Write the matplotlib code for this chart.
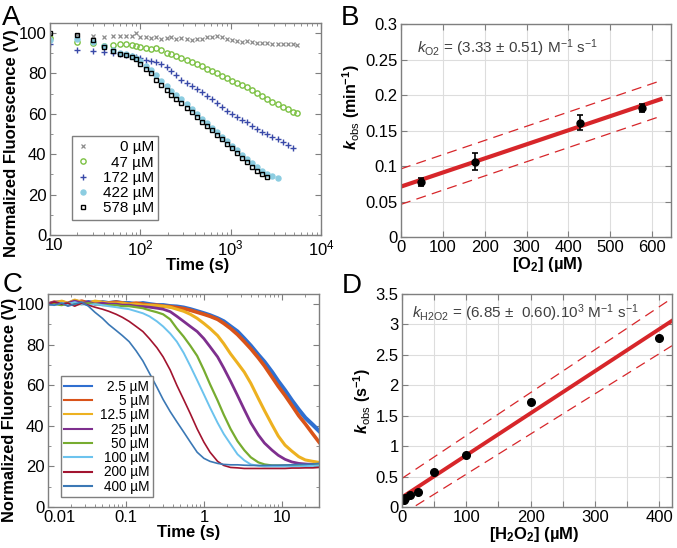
import matplotlib
matplotlib.use('Agg')
import matplotlib.pyplot as plt
from matplotlib.ticker import MultipleLocator, FixedLocator, FixedFormatter, NullFormatter, LogLocator

plt.rcParams['font.family'] = ['Liberation Sans', 'DejaVu Sans']
plt.rcParams['mathtext.fontset'] = 'custom'
plt.rcParams['mathtext.rm'] = 'Liberation Sans'
plt.rcParams['mathtext.it'] = 'Liberation Sans:italic'
plt.rcParams['mathtext.bf'] = 'Liberation Sans:bold'
plt.rcParams['mathtext.bfit'] = 'Liberation Sans:italic:bold'

# ---- panel A: fluorescence vs time at several O2 concentrations
tA = [10, 20, 30, 40, 50, 60, 70, 80, 90, 100,
      115, 130, 150, 170, 195, 220, 250, 285, 325, 370,
      420, 480, 545, 620, 705, 800, 910, 1035, 1180, 1340,
      1520, 1730, 1970, 2240, 2550, 2900, 3300, 3750, 4270, 4850, 5400]
tA_ticks = [10, 100, 1000, 10000]
tA_ticklabels = ['10', '$10^2$', '$10^3$', '$10^4$']
o2_labels = ['0 µM', '47 µM', '172 µM', '422 µM', '578 µM']
fA_0 = [99, 99, 98.5, 98.2, 98.6, 98.6, 98.6, 98.6, 99.8, 97.8,
        97.8, 97.5, 97.8, 97.2, 97.5, 97.8, 97.3, 97.4, 97.0, 96.8,
        97.0, 97.3, 97.8, 98.2, 98.6, 98.2, 97.2, 96.8, 96.3, 95.8,
        96.0, 95.5, 95.0, 95.2, 95.0, 94.6, 94.4, 94.6, 94.8, 94.5, 94.3]
fA_47 = [97.5, 95.4, 95, 93.8, 94, 94.5, 94.6, 94.3, 93.8, 93.2,
         92.6, 92.2, 92.5, 91.5, 90, 89.5, 88.5, 87.5, 86.5, 85.5,
         84.5, 83.5, 82.3, 81.3, 80, 78.8, 77.6, 76.5, 75.3, 74.3,
         73.4, 72, 70.5, 69, 67.5, 66, 64.8, 63.5, 62.2, 61, 60.2]
fA_172 = [94.7, 91.6, 91, 90.5, 90, 89.6, 89.3, 88.8, 88.3, 87.8,
          86.8, 86, 85.5, 84.5, 83, 81, 79, 77, 75.5, 74,
          72.5, 71, 69, 67.5, 65.5, 63.5, 61.5, 60, 58.5, 57,
          56, 54, 52.5, 51, 50, 48.5, 47.3, 46, 44.6, 43.2]
fA_422 = [96.5, 97, 95.5, 93.5, 91.5, 90, 89.5, 88.5, 87.5, 86,
          83.5, 81.5, 79, 76.5, 74, 71.5, 69.5, 67.5, 65, 62.5,
          60, 57.5, 55.5, 53, 51, 48.5, 46.5, 44, 42, 39.5,
          37.5, 35.5, 33.5, 31.5, 30, 29, 28.4]
fA_578 = [100, 99, 96.5, 93, 91, 89.5, 89, 88, 87, 84.5,
          82, 80, 77, 74.5, 72, 69.5, 67.5, 65.5, 63, 60.8,
          58.5, 56.2, 54.2, 52, 49.7, 47.5, 45.2, 42.9, 40.6, 38.3,
          36, 33.8, 31.8, 30, 28.5]

# ---- panel B: kobs vs [O2]
o2_conc = [48, 178, 428, 575]
kobs_o2 = [0.078, 0.106, 0.161, 0.182]
kobs_o2_err = [0.0055, 0.012, 0.0105, 0.006]
fitB_x = [0, 620]
fitB_y = [0.071, 0.194]
fitB_hi = [0.096, 0.220]
fitB_lo = [0.046, 0.170]

# ---- panel C: fluorescence vs time at several H2O2 concentrations
tC = [0.01, 0.012, 0.015, 0.018, 0.022, 0.027, 0.033, 0.04, 0.05, 0.06,
      0.075, 0.09, 0.11, 0.135, 0.165, 0.2, 0.25, 0.3, 0.37, 0.45,
      0.55, 0.67, 0.82, 1.0, 1.2, 1.5, 1.8, 2.2, 2.7, 3.3,
      4.0, 5.0, 6.0, 7.5, 9.0, 11, 13.5, 16.5, 20, 25, 30]
tC_ticks = [0.01, 0.1, 1, 10]
tC_ticklabels = ['0.01', '0.1', '1', '10']
h2o2_labels = ['2.5 µM', '5 µM', '12.5 µM', '25 µM', '50 µM', '100 µM', '200 µM', '400 µM']
fC_2_5 = [100, 100.5, 101, 100, 101.5, 100.5, 101, 100.5, 101, 100.5,
          101, 100.5, 100.5, 100, 100.5, 100, 99.5, 99.5, 99, 98.8,
          98.3, 97.5, 96.5, 95.5, 94.5, 93, 91.5, 89, 86.5, 83,
          79.5, 75, 71.5, 66.5, 62, 57.5, 52.5, 48, 44, 40.5, 37.5]
fC_5 = [100, 101, 100.5, 100, 100.5, 101.5, 100.5, 101, 100, 100.5,
        101, 100.5, 100, 100.5, 100, 99.5, 99.5, 99, 98.8, 98.3,
        97.8, 97, 96, 95, 94, 92.5, 90.5, 88, 85, 81.5,
        78, 73.5, 69.5, 64, 59.5, 55, 50, 45, 41, 36, 32]
fC_12_5 = [100, 100.5, 101.5, 100.5, 102, 101, 100.5, 101.5, 101, 100.5,
           100.5, 100.5, 100, 100, 99.5, 99.5, 99.2, 99, 98.5, 97.5,
           96.5, 95, 93, 90.5, 88, 84.5, 80.5, 75.5, 71, 66.5,
           61, 53.5, 47.5, 40.5, 35, 30.5, 27.5, 24.8, 23.2, 22.5, 22]
fC_25 = [100, 101, 100, 100.5, 101.5, 100.5, 101, 100, 100.5, 100,
         100, 99.5, 99.5, 99, 98.8, 98.5, 98, 97.5, 96.3, 94,
         91.5, 89, 86.5, 83, 79, 74, 68.5, 62, 55, 48,
         41.5, 35.5, 31.5, 28, 25.5, 23.5, 22.2, 21.5, 21.2, 21, 21]
fC_50 = [100, 100, 99.5, 100.5, 100, 100, 100.5, 100, 99.5, 99.5,
         99.5, 99, 99, 98.5, 98, 97, 96, 95, 92.5, 88,
         84, 79.5, 74.5, 67.5, 60.5, 52.5, 45.5, 38.5, 32.5, 28,
         24.5, 22, 21, 20.5, 20.5, 20.5, 20.5, 20.5, 20.5, 20.6, 20.8]
fC_100 = [100, 99.5, 100.5, 100, 101, 100, 99.5, 100, 99.5, 99,
          98.5, 98, 97.5, 96.5, 95.5, 94, 91.5, 89, 85.5, 81.5,
          76, 69.5, 62.5, 55.5, 49, 41.5, 36, 31, 26, 23,
          21, 20.3, 20, 20, 20, 20, 20, 20, 20.2, 20.3, 20.5]
fC_200 = [100, 101, 100, 100.5, 99, 100.5, 99.5, 98.5, 97.5, 96.5,
          95, 93.5, 91.5, 89, 86.5, 83, 78.5, 74, 67.5, 60,
          53, 46, 38.5, 32, 27, 22.5, 20.5, 19.5, 19.3, 19,
          19, 19, 19, 19, 19, 19, 19.2, 19.2, 19.3, 19.3, 19.5]
fC_400 = [100, 99.5, 100.5, 99, 100, 101, 99, 96, 93, 90,
          87, 84.5, 81.5, 77, 72, 66, 59, 53, 47, 42,
          37, 32, 27, 24, 22.5, 21.5, 21, 20.8, 20.8, 20.6,
          20.5, 20.5, 20.5, 20.6, 20.6, 20.7, 20.8, 21, 21, 21.2, 21.5]

# ---- panel D: kobs vs [H2O2]
h2o2_conc = [2.5, 5, 12.5, 25, 50, 100, 200, 400]
kobs_h2o2 = [0.12, 0.14, 0.2, 0.25, 0.58, 0.86, 1.73, 2.78]
fitD_x = [0, 420]
fitD_y = [0.16, 3.06]
fitD_hi = [0.47, 3.43]
fitD_lo = [-0.12, 2.65]

fig = plt.figure(figsize=(6.77, 5.48), dpi=100)
axA = fig.add_axes([0.0739, 0.5712, 0.4003, 0.3869])
axB = fig.add_axes([0.5923, 0.5675, 0.3988, 0.3887])
axC = fig.add_axes([0.0709, 0.0748, 0.4003, 0.3887])
axD = fig.add_axes([0.5938, 0.0748, 0.3988, 0.3887])

LBL = dict(fontsize=12, fontweight='bold', labelpad=0)


def style(ax):
    for s in ax.spines.values():
        s.set_color('#7f7f7f')
        s.set_linewidth(1.0)
    ax.tick_params(which='both', direction='in', top=True, right=True,
                   color='#7f7f7f', labelsize=12, pad=2.5)
    ax.tick_params(which='major', length=4)
    ax.tick_params(which='minor', length=2)


def log_time_axis(ax, ticks, labels):
    # first label sits just right of the left edge, like the original
    ax.xaxis.set_major_locator(FixedLocator(ticks))
    ax.xaxis.set_major_formatter(FixedFormatter([''] + labels[1:]))
    ax.xaxis.set_minor_locator(LogLocator(base=10, subs=range(2, 10)))
    ax.xaxis.set_minor_formatter(NullFormatter())
    ax.annotate(labels[0], xy=(ticks[0], 0), xycoords=ax.get_xaxis_transform(),
                xytext=(-3.6, -2.5), textcoords='offset points',
                ha='left', va='top', fontsize=12)


def right_align(leg):
    # legend labels are right-aligned in the original figure
    fig.canvas.draw()
    r = fig.canvas.get_renderer()
    ws = [t.get_window_extent(r).width for t in leg.get_texts()]
    wmax = max(ws)
    for t, w in zip(leg.get_texts(), ws):
        t.set_position((wmax - w, 0))


# A
style(axA)
axA.set_xscale('log')
stylesA = [
    dict(marker='x', color='#8c8c8c', ms=3.0, mew=0.9),
    dict(marker='o', mfc='none', mec='#7cc143', ms=3.8, mew=1.0),
    dict(marker='+', color='#3949a8', ms=4.2, mew=1.0),
    dict(marker='o', color='#8ccde1', mec='#8ccde1', ms=3.6),
    dict(marker='s', mfc='none', mec='black', ms=3.4, mew=1.0),
]
for vals, lab, st in zip([fA_0, fA_47, fA_172, fA_422, fA_578], o2_labels, stylesA):
    axA.plot(tA[:len(vals)], vals, ls='none', label=lab, **st)
axA.set_xlim(10, 1e4)
axA.set_ylim(0, 105)
axA.yaxis.set_major_locator(MultipleLocator(20))
axA.yaxis.set_minor_locator(MultipleLocator(10))
log_time_axis(axA, tA_ticks, tA_ticklabels)
axA.set_xlabel('Time (s)', **LBL)
axA.set_ylabel('Normalized Fluorescence (V)', **LBL)
axA.xaxis.label.set_x(0.546)
axA.yaxis.label.set_y(0.434)
legA = axA.legend(loc='lower left', bbox_to_anchor=(0.081, 0.071), borderaxespad=0,
                  fontsize=11, fancybox=False, framealpha=1, edgecolor='#7f7f7f',
                  handlelength=0.8, handletextpad=0.9, labelspacing=0.08,
                  borderpad=0.3, numpoints=1)
legA.get_frame().set_linewidth(1.0)

# B
style(axB)
axB.grid(True, color='#dddddd', lw=0.8)
axB.set_axisbelow(True)
axB.plot(fitB_x, fitB_hi, color='#d7262a', lw=0.9, dashes=(8, 5))
axB.plot(fitB_x, fitB_lo, color='#d7262a', lw=0.9, dashes=(8, 5))
axB.plot(fitB_x, fitB_y, color='#d7262a', lw=3)
axB.errorbar(o2_conc, kobs_o2, yerr=kobs_o2_err, fmt='o', color='black', ms=5,
             capsize=2, elinewidth=1.2, capthick=1.2)
axB.set_xlim(0, 645)
axB.set_ylim(0, 0.3)
axB.xaxis.set_major_locator(MultipleLocator(100))
axB.yaxis.set_major_locator(MultipleLocator(0.05))
axB.yaxis.set_major_formatter(plt.FuncFormatter(lambda v, p: '%g' % round(v, 3)))
axB.set_xlabel(r'[O$_{\mathbf{2}}$] (µM)', **LBL)
axB.set_ylabel(r'$\mathbfit{k}_{\mathrm{obs}}$ (min$^{\mathbf{-1}}$)', fontsize=11.5,
               fontweight='bold', labelpad=2)
axB.xaxis.label.set_x(0.544)
axB.yaxis.label.set_y(0.61)
axB.text(0.06, 0.885, r'$\mathit{k}_{\mathrm{O2}}$ = (3.33 ± 0.51) M$^{-1}$ s$^{-1}$',
         transform=axB.transAxes, fontsize=11, color='#404040', va='center')

# C
style(axC)
axC.set_xscale('log')
colorsC = ['#2f6fd0', '#d95319', '#edb120', '#7e2f8e', '#77ac30', '#6cc3ee', '#a2142f', '#3b78b5']
widthsC = [3.0, 2.6, 2.2, 2.0, 1.6, 1.4, 1.2, 1.2]
seriesC = [fC_2_5, fC_5, fC_12_5, fC_25, fC_50, fC_100, fC_200, fC_400]
for vals, lab, c, w in zip(seriesC, h2o2_labels, colorsC, widthsC):
    axC.plot(tC, vals, color=c, lw=w, label=lab)
axC.set_xlim(0.01, 30)
axC.set_ylim(0, 105)
axC.yaxis.set_major_locator(MultipleLocator(20))
axC.yaxis.set_minor_locator(MultipleLocator(10))
log_time_axis(axC, tC_ticks, tC_ticklabels)
axC.set_xlabel('Time (s)', **LBL)
axC.set_ylabel('Normalized Fluorescence (V)', fontsize=11.8, fontweight='bold', labelpad=0)
axC.xaxis.label.set_x(0.52)
axC.yaxis.label.set_y(0.455)
legC = axC.legend(loc='lower left', bbox_to_anchor=(0.048, 0.047), borderaxespad=0,
                  fontsize=9.8, fancybox=False, framealpha=1, edgecolor='#7f7f7f',
                  handlelength=2.0, handletextpad=0.6, labelspacing=0.02,
                  borderpad=0.25)
legC.get_frame().set_linewidth(1.0)
for ln in legC.get_lines():
    ln.set_linewidth(1.5)

# D
style(axD)
axD.grid(True, color='#dddddd', lw=0.8)
axD.set_axisbelow(True)
axD.plot(fitD_x, fitD_hi, color='#d7262a', lw=0.9, dashes=(8, 5))
axD.plot(fitD_x, fitD_lo, color='#d7262a', lw=0.9, dashes=(8, 5))
axD.plot(fitD_x, fitD_y, color='#d7262a', lw=2.8)
axD.plot(h2o2_conc, kobs_h2o2, 'o', color='black', ms=5.5)
axD.set_xlim(0, 420)
axD.set_ylim(0, 3.5)
axD.xaxis.set_major_locator(MultipleLocator(50))
axD.xaxis.set_major_formatter(plt.FuncFormatter(lambda v, p: '%d' % v if v % 100 == 0 else ''))
axD.yaxis.set_major_locator(MultipleLocator(0.5))
axD.yaxis.set_major_formatter(plt.FuncFormatter(lambda v, p: '%g' % v))
axD.set_xlabel(r'[H$_{\mathbf{2}}$O$_{\mathbf{2}}$] (µM)', **LBL)
axD.set_ylabel(r'$\mathbfit{k}_{\mathrm{obs}}$ (s$^{\mathbf{-1}}$)', fontsize=11.5,
               fontweight='bold', labelpad=2)
axD.xaxis.label.set_x(0.49)
axD.text(0.036, 0.91, r'$\mathit{k}_{\mathrm{H2O2}}$ = (6.85 ±  0.60).10$^3$ M$^{-1}$ s$^{-1}$',
         transform=axD.transAxes, fontsize=11, color='#404040', va='center')

# panel letters
for x, y, s in [(0.003, 0.954, 'A'), (0.504, 0.954, 'B'), (0.004, 0.467, 'C'), (0.505, 0.465, 'D')]:
    fig.text(x, y, s, fontsize=20, va='baseline')

right_align(legA)
right_align(legC)

fig.savefig('out.png', dpi=100)
